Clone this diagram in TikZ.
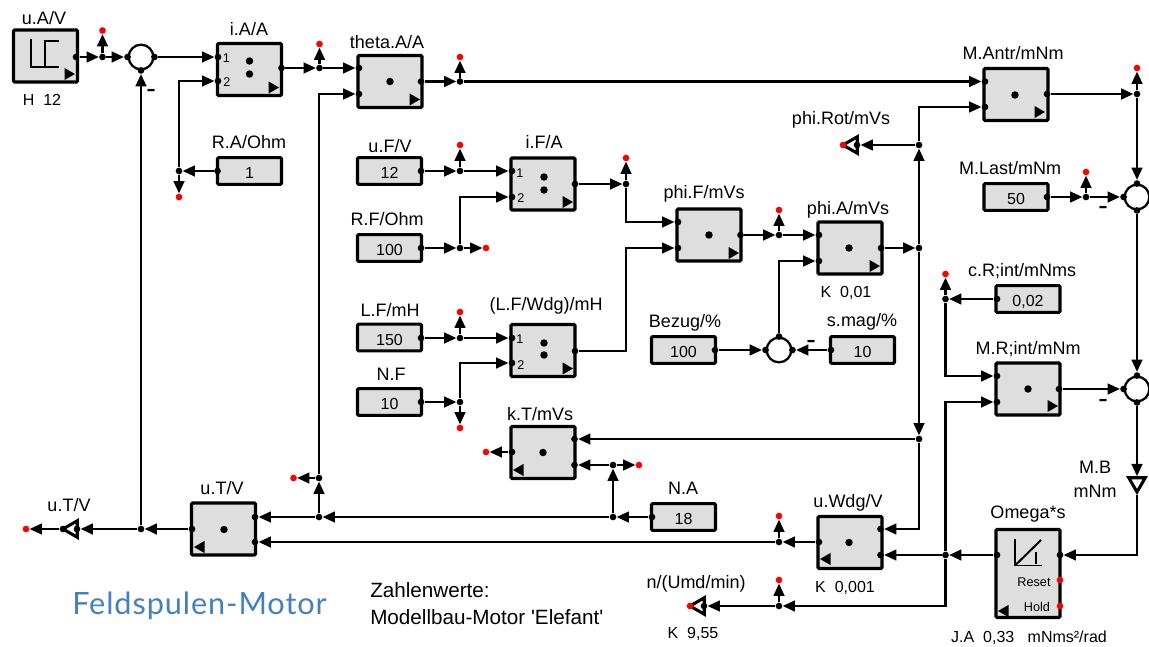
\documentclass[tikz,border=0pt]{standalone}
\usepackage{fontspec}
\setmainfont{Liberation Sans}
\newfontfamily\titlefont[LetterSpace=3]{Lato}
\newfontfamily\minusfont{DejaVu Sans}
\usepackage{xcolor}
\usetikzlibrary{arrows.meta,shapes.geometric}
\definecolor{blockgray}{RGB}{222,222,222}
\definecolor{titleblue}{RGB}{68,128,190}
\tikzset{
  block/.style={rectangle, draw, fill=blockgray, line width=2.3pt, rounded corners=0.8pt, minimum width=48pt, minimum height=39pt, inner sep=0pt},
  constbox/.style={block, minimum height=20pt, font=\fontsize{12}{12}\selectfont, text height=11.4pt, text depth=0pt},
  sumnode/.style={circle, draw, fill=white, line width=1.7pt, minimum size=18.5pt, inner sep=0pt},
  gainnode/.style={regular polygon, regular polygon sides=3, draw, fill=white, line width=2.3pt, minimum size=14.25pt, inner sep=0pt},
  dot/.style={circle, fill=black, minimum size=5pt, inner sep=0pt},
  centerdot/.style={circle, fill=black, minimum size=5.6pt, inner sep=0pt},
  probe/.style={circle, fill=red, minimum size=5pt, inner sep=0pt},
  markr/.style={regular polygon, regular polygon sides=3, fill=black, minimum size=10.5pt, inner sep=0pt, shape border rotate=-90},
  markl/.style={markr, shape border rotate=90},
  lbl/.style={font=\fontsize{13.5}{13.5}\selectfont, inner sep=0pt},
  val/.style={font=\fontsize{12}{12}\selectfont, inner sep=0pt},
  tiny/.style={font=\fontsize{9.5}{9.5}\selectfont, inner sep=0pt},
  note/.style={font=\fontsize{15.5}{15.5}\selectfont, inner sep=0pt, anchor=west},
  minus/.style={font=\minusfont\bfseries\fontsize{13.5}{13.5}\selectfont, inner sep=0pt},
  wire/.style={line width=1.7pt, -{Triangle[length=9.2pt,width=8pt]}},
  sym/.style={line width=1pt}
}
\begin{document}
\begin{tikzpicture}[x=0.75pt,y=-0.75pt]
\useasboundingbox (0,0) rectangle (1149,646);
% Blocks
\node[block] (uA) at (45.5,56) {};
\node[block] (iA) at (249.5,69.5) {};
\node[block] (theta) at (390,81.5) {};
\node[block] (iF) at (543,184) {};
\node[block] (lfw) at (543,350.5) {};
\node[block] (kT) at (543,452.5) {};
\node[block] (phiF) at (709,235) {};
\node[block] (phiA) at (850,248) {};
\node[block] (mAntr) at (1016,94.5) {};
\node[block] (mR) at (1028,389) {};
\node[block] (uWdg) at (850,542.5) {};
\node[block] (uT) at (223.5,529) {};
\node[block, minimum height=88pt*0.75] (omega) at (1028,573.5) {};

% Constants
\node[constbox] (rA) at (249.5,171) {1};
\node[constbox] (uF) at (389.5,171) {12};
\node[constbox] (rF) at (389.5,248) {100};
\node[constbox] (lF) at (389.5,337.5) {150};
\node[constbox] (nF) at (389.5,402) {10};
\node[constbox] (bezug) at (683.5,350) {100};
\node[constbox] (smag) at (862.5,350) {10};
\node[constbox] (mLast) at (1016,197) {50};
\node[constbox] (cR) at (1028,299) {0,02};
\node[constbox] (nA) at (683.5,517) {18};

% Summing points
\node[sumnode] (s1) at (141,57) {};
\node[sumnode] (s2) at (779,350) {};
\node[sumnode] (s3) at (1137,197) {};
\node[sumnode] (s4) at (1137,389) {};
\node[dot] (s1r) at (s1.east) {};
\node[dot] (s1l) at (s1.west) {};
\node[dot] (s1b) at (s1.south) {};
\node[dot] (s2t) at (s2.north) {};
\node[dot] (s2l) at (s2.west) {};
\node[dot] (s2r) at (s2.east) {};
\node[dot] (s3t) at (s3.north) {};
\node[dot] (s3l) at (s3.west) {};
\node[dot] (s3b) at (s3.south) {};
\node[dot] (s4t) at (s4.north) {};
\node[dot] (s4l) at (s4.west) {};
\node[dot] (s4b) at (s4.south) {};

% Gain triangles
\node[gainnode, shape border rotate=90] (gT) at (72.5,529) {};
\node[gainnode, shape border rotate=90] (gN) at (699.5,606) {};
\node[gainnode, shape border rotate=90] (gPhi) at (852.5,145) {};
\node[gainnode, shape border rotate=180] (gB) at (1137,482.5) {};

% Block marks
\node[centerdot] (iAd1) at (249.5,61) {};
\node[centerdot] (iAd2) at (249.5,74) {};
\node[centerdot] (iFd1) at (544,177) {};
\node[centerdot] (iFd2) at (544,190) {};
\node[centerdot] (lfwd1) at (544,343) {};
\node[centerdot] (lfwd2) at (544,355) {};
\node[centerdot] (thetad) at (390,81.5) {};
\node[centerdot] (kTd) at (543,452.5) {};
\node[centerdot] (phiFd) at (709,235) {};
\node[centerdot] (phiAd) at (849,248) {};
\node[centerdot] (mAntrd) at (1015,95) {};
\node[centerdot] (mRd) at (1028,389) {};
\node[centerdot] (uWdgd) at (849,542.5) {};
\node[centerdot] (uTd) at (224,529.5) {};
\node[markr] (uAm) at (68,74) {};
\node[markr] (iAm) at (272,87.5) {};
\node[markr] (thetam) at (413,99.5) {};
\node[markr] (iFm) at (566,202) {};
\node[markr] (lfwm) at (566,368.5) {};
\node[markr] (phiFm) at (732,253) {};
\node[markr] (phiAm) at (873,266) {};
\node[markr] (mAntrm) at (1038,112) {};
\node[markr] (mRm) at (1051,406) {};
\node[markl] (kTm) at (520,470) {};
\node[markl] (uWdgm) at (827,559) {};
\node[markl] (uTm) at (201,547) {};
\node[markl] (omegam) at (1005,611) {};

% Step and integrator symbols
\draw[sym] (31,39) -- (31,67) -- (59,67);
\draw[line width=1.6pt] (31,67) -- (45,67);
\draw[sym] (45,67) -- (45,41) -- (59,41);
\draw[sym] (1015,539) -- (1015,565.5) -- (1042,565.5);
\draw[line width=1.5pt] (1015,565.5) -- (1041,540);
\draw[sym] (1036,552) -- (1036,564);

% Ports
\node[dot] (uAo) at (76,57) {};
\node[dot] (iA1) at (218,57) {};
\node[dot] (iA2) at (218,81) {};
\node[dot] (iAo) at (281.5,68) {};
\node[dot] (rAo) at (217.5,171) {};
\node[dot] (thetaA) at (359,68) {};
\node[dot] (thetaB) at (359,94) {};
\node[dot] (thetao) at (421,81.5) {};
\node[dot] (uFo) at (421,171) {};
\node[dot] (rFo) at (421,248) {};
\node[dot] (lFo) at (421,338) {};
\node[dot] (nFo) at (421,402) {};
\node[dot] (iF1) at (512,171) {};
\node[dot] (iF2) at (512,197) {};
\node[dot] (iFo) at (575,184) {};
\node[dot] (lfw1) at (512,338) {};
\node[dot] (lfw2) at (512,363) {};
\node[dot] (lfwo) at (575,351) {};
\node[dot] (kT1) at (574.5,439) {};
\node[dot] (kT2) at (574.5,465) {};
\node[dot] (kTo) at (512,452) {};
\node[dot] (phiF1) at (678,222) {};
\node[dot] (phiF2) at (678,248) {};
\node[dot] (phiFo) at (740.5,235) {};
\node[dot] (phiA1) at (819,235) {};
\node[dot] (phiA2) at (819,261) {};
\node[dot] (phiAo) at (881,248) {};
\node[dot] (bezugo) at (715,350) {};
\node[dot] (smago) at (831,350) {};
\node[dot] (mAntr1) at (985,81.5) {};
\node[dot] (mAntr2) at (985,107) {};
\node[dot] (mAntro) at (1047,94) {};
\node[dot] (mLasto) at (1047,197) {};
\node[dot] (cRo) at (997,299) {};
\node[dot] (mR1) at (997,376) {};
\node[dot] (mR2) at (997,402) {};
\node[dot] (mRo) at (1059,389) {};
\node[dot] (omegai) at (1060,555) {};
\node[dot] (omegao) at (997,555) {};
\node[dot] (uWdg1) at (880.5,529) {};
\node[dot] (uWdg2) at (880.5,555) {};
\node[dot] (uWdgo) at (819,542) {};
\node[dot] (nAo) at (652,517) {};
\node[dot] (uT1) at (255,517) {};
\node[dot] (uT2) at (255,542) {};
\node[dot] (uTo) at (192,529) {};
\node[dot] (gTa) at (77,529) {};
\node[dot] (gTb) at (63,529) {};
\node[dot] (gNa) at (704,606) {};
\node[dot] (gPhia) at (857,145) {};

% Junctions
\node[dot] (jUA) at (102.5,57) {};
\node[dot] (jRA) at (179,171) {};
\node[dot] (jIA) at (319.5,68) {};
\node[dot] (jTheta) at (460,81.5) {};
\node[dot] (jUF) at (460,171) {};
\node[dot] (jRF) at (460,248) {};
\node[dot] (jLF) at (460,338) {};
\node[dot] (jNF) at (460,402) {};
\node[dot] (jIF) at (626,184) {};
\node[dot] (jPhiF) at (779,235) {};
\node[dot] (jPhiA) at (919,248) {};
\node[dot] (jRot) at (919,145) {};
\node[dot] (jKT) at (919,439) {};
\node[dot] (jNA) at (613,465) {};
\node[dot] (jNB) at (613,517) {};
\node[dot] (jUT) at (319,517) {};
\node[dot] (jUP) at (319,478) {};
\node[dot] (jUW) at (779,542) {};
\node[dot] (jOm) at (945.5,555) {};
\node[dot] (jN) at (779,606) {};
\node[dot] (jCR) at (945.5,299) {};
\node[dot] (jML) at (1086,197) {};
\node[dot] (jMA) at (1137,94) {};
\node[dot] (jOut) at (141,529) {};
\coordinate (cLfw) at (626,248);

% Probes
\node[probe] (pUA) at (102.5,30.5) {};
\node[probe] (pRA) at (179,197) {};
\node[probe] (pIA) at (319.5,44) {};
\node[probe] (pTheta) at (460,57) {};
\node[probe] (pUF) at (460,145) {};
\node[probe] (pRF) at (486,248) {};
\node[probe] (pLF) at (460,312) {};
\node[probe] (pNF) at (460,428) {};
\node[probe] (pIF) at (626,158) {};
\node[probe] (pPhiF) at (779,210) {};
\node[probe] (pRot) at (843,145) {};
\node[probe] (pKT) at (486,452) {};
\node[probe] (pNA) at (639,465) {};
\node[probe] (pUP) at (293.5,478) {};
\node[probe] (pUW) at (779,516) {};
\node[probe] (pN) at (779,580) {};
\node[probe] (pNT) at (690,606) {};
\node[probe] (pCR) at (945.5,274) {};
\node[probe] (pML) at (1086,172) {};
\node[probe] (pMA) at (1137,68) {};
\node[probe] (pOut) at (26,529) {};
\node[probe] (pReset) at (1060,580) {};
\node[probe] (pHold) at (1060,606) {};

% Connections, armature part
\draw[wire] (uAo) -- (jUA);
\draw[wire] (jUA) -- (pUA);
\draw[wire] (jUA) -- (s1l);
\draw[wire] (s1r) -- (iA1);
\draw[wire] (rAo) -- (jRA);
\draw[wire] (jRA) -- (pRA);
\draw[wire] (jRA) |- (iA2);
\draw[wire] (iAo) -- (jIA);
\draw[wire] (jIA) -- (pIA);
\draw[wire] (jIA) -- (thetaA);
\draw[wire] (thetao) -- (jTheta);
\draw[wire] (jTheta) -- (pTheta);
\draw[wire] (jTheta) -- (mAntr1);
\draw[wire] (jOut) -- (s1b);
\draw[wire] (uTo) -- (jOut);
\draw[wire] (jOut) -- (gTa);
\draw[wire] (gTb) -- (pOut);
\draw[wire] (jUT) -- (jUP);
\draw[wire] (jUP) -- (pUP);
\draw[wire] (jUP) |- (thetaB);
\draw[wire] (jUT) -- (uT1);

% Connections, field part
\draw[wire] (uFo) -- (jUF);
\draw[wire] (jUF) -- (pUF);
\draw[wire] (jUF) -- (iF1);
\draw[wire] (rFo) -- (jRF);
\draw[wire] (jRF) -- (pRF);
\draw[wire] (jRF) |- (iF2);
\draw[wire] (iFo) -- (jIF);
\draw[wire] (jIF) -- (pIF);
\draw[wire] (jIF) |- (phiF1);
\draw[wire] (lFo) -- (jLF);
\draw[wire] (jLF) -- (pLF);
\draw[wire] (jLF) -- (lfw1);
\draw[wire] (nFo) -- (jNF);
\draw[wire] (jNF) -- (pNF);
\draw[wire] (jNF) |- (lfw2);
\draw[wire] (lfwo) -| (cLfw) -- (phiF2);
\draw[wire] (phiFo) -- (jPhiF);
\draw[wire] (jPhiF) -- (pPhiF);
\draw[wire] (jPhiF) -- (phiA1);
\draw[wire] (bezugo) -- (s2l);
\draw[wire] (smago) -- (s2r);
\draw[wire] (s2t) |- (phiA2);
\draw[wire] (phiAo) -- (jPhiA);
\draw[wire] (jPhiA) -- (jRot);
\draw[wire] (jRot) |- (mAntr2);
\draw[wire] (jRot) -- (gPhia);
\draw[wire] (jPhiA) -- (jKT);
\draw[wire] (jKT) -- (kT1);
\draw[wire] (jKT) |- (uWdg1);
\draw[wire] (kTo) -- (pKT);
\draw[wire] (nAo) -- (jNB);
\draw[wire] (jNB) -- (jNA);
\draw[wire] (jNA) -- (kT2);
\draw[wire] (jNA) -- (pNA);
\draw[wire] (jNB) -- (jUT);

% Connections, load part
\draw[wire] (mAntro) -- (jMA);
\draw[wire] (jMA) -- (pMA);
\draw[wire] (jMA) -- (s3t);
\draw[wire] (mLasto) -- (jML);
\draw[wire] (jML) -- (pML);
\draw[wire] (jML) -- (s3l);
\draw[wire] (s3b) -- (s4t);
\draw[wire] (mRo) -- (s4l);
\draw[wire] (s4b) -- (gB);
\draw[wire] (gB) |- (omegai);
\draw[wire] (cRo) -- (jCR);
\draw[wire] (jCR) -- (pCR);
\draw[wire] (jCR) |- (mR1);
\draw[wire] (omegao) -- (jOm);
\draw[wire] (jOm) -- (uWdg2);
\draw[wire] (jOm) |- (mR2);
\draw[wire] (jOm) |- (jN);
\draw[wire] (jN) -- (pN);
\draw[wire] (jN) -- (gNa);
\draw[wire] (uWdgo) -- (jUW);
\draw[wire] (jUW) -- (pUW);
\draw[wire] (jUW) -- (uT2);

% Labels
\node[lbl] (uAl) at (44,18) {u.A/V};
\node[val] (uAp) at (42,100) {H\ \ 12};
\node[lbl] (iAl) at (249,29) {i.A/A};
\node[lbl] (thetal) at (387,42) {theta.A/A};
\node[lbl] (rAl) at (249,142) {R.A/Ohm};
\node[lbl] (uFl) at (390,146) {u.F/V};
\node[lbl] (iFl) at (544,142) {i.F/A};
\node[lbl] (rFl) at (387,219) {R.F/Ohm};
\node[lbl] (lFl) at (390,310) {L.F/mH};
\node[lbl] (lfwl) at (546,306) {(L.F/Wdg)/mH};
\node[lbl] (nFl) at (391,374) {N.F};
\node[lbl] (kTl) at (540,414) {k.T/mVs};
\node[lbl] (phiFl) at (704,194) {phi.F/mVs};
\node[lbl] (phiAl) at (848,210) {phi.A/mVs};
\node[val] (phiAp) at (846,293) {K\ \ 0,01};
\node[lbl] (bezugl) at (685,323) {Bezug/\%};
\node[lbl] (smagl) at (862,322) {s.mag/\%};
\node[lbl] (rotl) at (841,120) {phi.Rot/mVs};
\node[lbl] (mAntrl) at (1013,53) {M.Antr/mNm};
\node[lbl] (mLastl) at (1010,168) {M.Last/mNm};
\node[lbl] (cRl) at (1022,271) {c.R;int/mNms};
\node[lbl] (mRl) at (1028,349) {M.R;int/mNm};
\node[lbl] (mBl) at (1095,467) {M.B};
\node[lbl] (mBu) at (1095,491) {mNm};
\node[lbl] (omegal) at (1028,514) {Omega*s};
\node[val] (omegap) at (1029,638) {J.A\ \ 0,33\ \ \ mNms²/rad};
\node[tiny] (resetl) at (1034,582) {Reset};
\node[tiny] (holdl) at (1037,607) {Hold};
\node[lbl] (uWdgl) at (848,503) {u.Wdg/V};
\node[val] (uWdgp) at (845,588) {K\ \ 0,001};
\node[lbl] (nl) at (696,584) {n/(Umd/min)};
\node[val] (np) at (693,634) {K\ \ 9,55};
\node[lbl] (nAl) at (683,488) {N.A};
\node[lbl] (uTl) at (222,488) {u.T/V};
\node[lbl] (gTl) at (69,505) {u.T/V};
\node[tiny] (iAn1) at (226.5,58) {1};
\node[tiny] (iAn2) at (227,82) {2};
\node[tiny] (iFn1) at (520,173) {1};
\node[tiny] (iFn2) at (521,198) {2};
\node[tiny] (lfwn1) at (520,339) {1};
\node[tiny] (lfwn2) at (521,365) {2};

% Minus signs
\node[minus] (m1) at (151,92) {–};
\node[minus] (m2) at (811,343) {–};
\node[minus] (m3) at (1103,209) {–};
\node[minus] (m4) at (1103,402) {–};

% Notes
\node[note] (note1) at (370,590) {Zahlenwerte:};
\node[note] (note2) at (370,617) {Modellbau-Motor \textquotesingle Elefant\textquotesingle};
\node[font=\titlefont\fontsize{23}{23}\selectfont, text=titleblue, anchor=west, inner sep=0pt] (title) at (72,606) {Feldspulen-Motor};
\end{tikzpicture}
\end{document}
